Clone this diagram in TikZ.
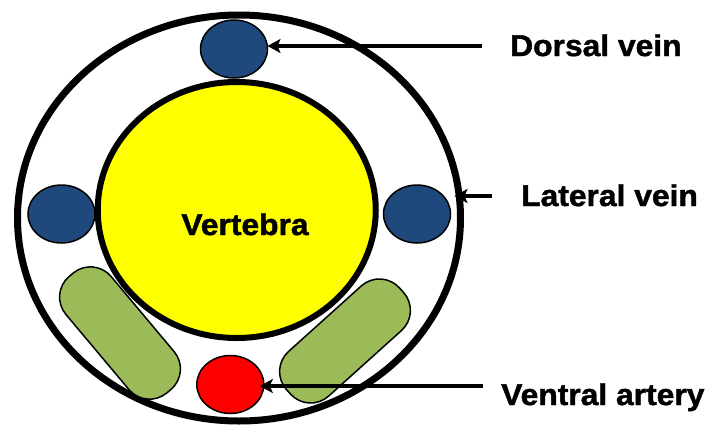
\documentclass[tikz,border=0pt]{standalone}
\usepackage{fontspec}
\setmainfont{Liberation Sans}
\newfontfamily\lblfont[FakeStretch=1.06,FakeBold=1.5]{Liberation Sans}
\usetikzlibrary{arrows.meta,shapes.geometric}

\definecolor{veinblue}{HTML}{1F497D}
\definecolor{muscle}{HTML}{9BBB59}
\definecolor{artery}{HTML}{FF0000}
\definecolor{bone}{HTML}{FFFF00}

\begin{document}
\begin{tikzpicture}[x=1pt,y=-1pt,
  vessel/.style={ellipse, draw=black, line width=1.5pt, inner sep=0pt, outer sep=0pt,
                 minimum width=67pt, minimum height=58pt},
  capsule/.style={rectangle, draw=black, fill=muscle, line width=1.5pt,
                  rounded corners=27pt, inner sep=0pt, outer sep=0pt},
  pointer/.style={draw=black, line width=3.6pt,
                  -{Stealth[length=13pt,width=14pt,inset=3pt]}},
  lbl/.style={inner sep=0pt, font=\lblfont\bfseries\fontsize{30}{33}\selectfont}]

  % canvas
  \fill[white] (0,0) rectangle (712,426);
  \useasboundingbox (0,0) rectangle (712,426);

  % body outline
  \node[ellipse, draw=black, line width=7pt, inner sep=0pt, outer sep=0pt,
        minimum width=443pt, minimum height=406pt] (body) at (239,218) {};

  % vertebra
  \node[ellipse, draw=black, fill=bone, line width=6pt, inner sep=0pt, outer sep=0pt,
        minimum width=278pt, minimum height=256pt] (vert) at (236.75,210) {};
  \node[lbl, anchor=base] (vtext) at (245,235) {Vertebra};

  % veins
  \node[vessel, fill=veinblue] (dv) at (234,49) {};
  \node[vessel, fill=veinblue] (lvl) at (61.5,214) {};
  \node[vessel, fill=veinblue] (lvr) at (417,214) {};

  % muscle blocks
  \node[capsule, minimum width=152pt, minimum height=59pt, rotate=-50] (gl) at (120,333) {};
  \node[capsule, minimum width=152pt, minimum height=60pt, rotate=42] (gr) at (345,341) {};

  % artery
  \node[vessel, fill=artery] (va) at (230.3,384.5) {};

  % pointers
  \coordinate (dtail) at (482,46);
  \coordinate (ltail) at (492,196);
  \coordinate (vtail) at (483,386);
  \draw[pointer] (dtail) -- (dtail -| dv.east);
  \draw[pointer, shorten >=4pt] (ltail) -- (ltail -| lvr.east);
  \draw[pointer, shorten >=-4pt] (vtail) -- (vtail -| va.east);

  % labels
  \node[lbl, anchor=base west] (dlab) at (510,56) {Dorsal vein};
  \node[lbl, anchor=base west] (llab) at (521,206) {Lateral vein};
  \node[lbl, anchor=base west] (alab) at (501,405) {Ventral artery};
\end{tikzpicture}
\end{document}
